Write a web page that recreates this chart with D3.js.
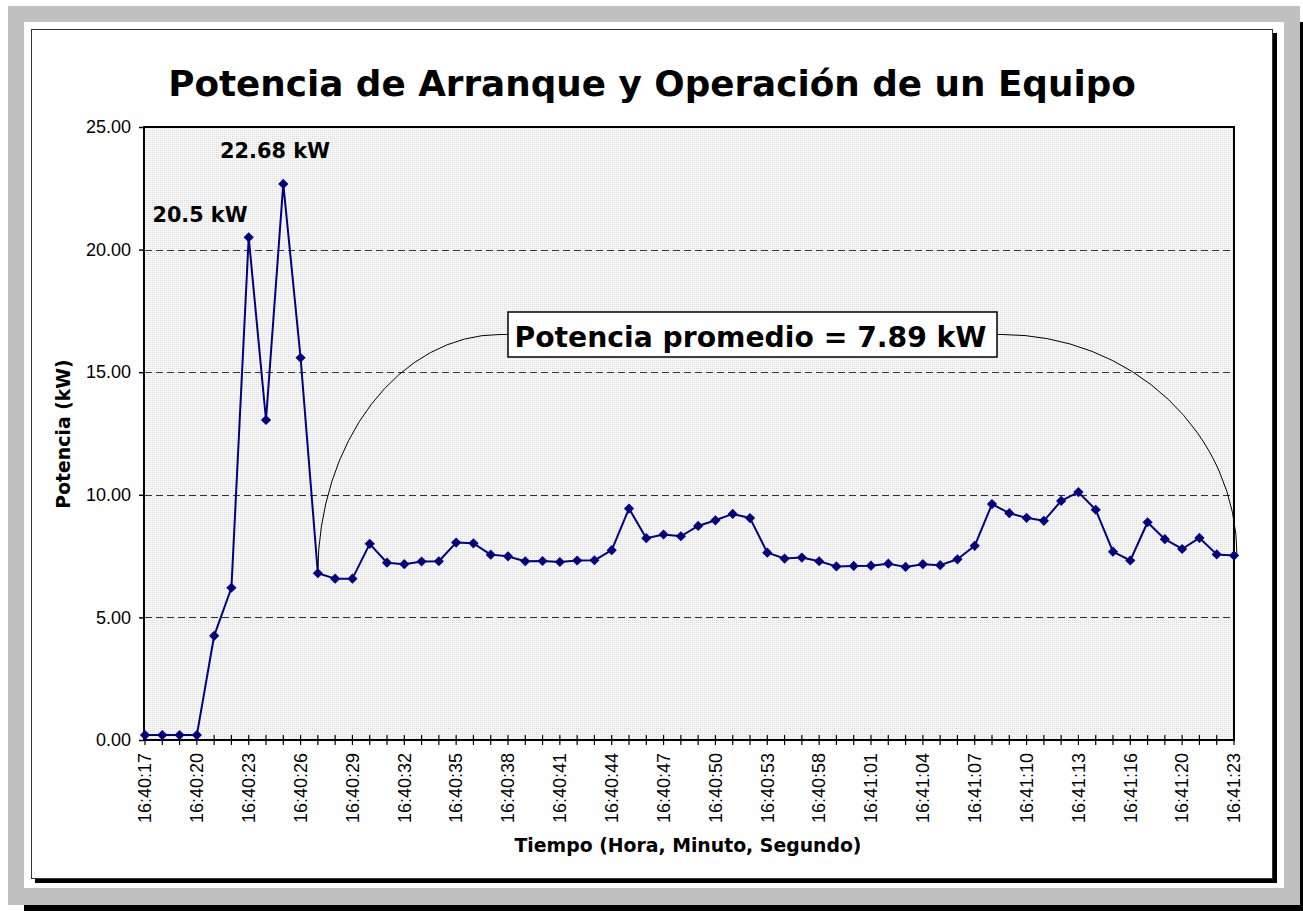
<!DOCTYPE html>
<html>
<head>
<meta charset="utf-8">
<script src="https://cdn.jsdelivr.net/npm/d3@7"></script>
<style>
  html, body { margin: 0; padding: 0; background: #ffffff; }
  svg { display: block; }
</style>
</head>
<body>
<svg id="chart" width="1303" height="911"></svg>
<script>
// ---------------- data ----------------
const times = [
  "16:40:17","16:40:18","16:40:19","16:40:20","16:40:21","16:40:22","16:40:23","16:40:24",
  "16:40:25","16:40:26","16:40:27","16:40:28","16:40:29","16:40:30","16:40:31","16:40:32",
  "16:40:33","16:40:34","16:40:35","16:40:36","16:40:37","16:40:38","16:40:39","16:40:40",
  "16:40:41","16:40:42","16:40:43","16:40:44","16:40:45","16:40:46","16:40:47","16:40:48",
  "16:40:49","16:40:50","16:40:51","16:40:52","16:40:53","16:40:55","16:40:56","16:40:58",
  "16:40:59","16:41:00","16:41:01","16:41:02","16:41:03","16:41:04","16:41:05","16:41:06",
  "16:41:07","16:41:08","16:41:09","16:41:10","16:41:11","16:41:12","16:41:13","16:41:14",
  "16:41:15","16:41:16","16:41:17","16:41:19","16:41:20","16:41:21","16:41:22","16:41:23"
];
const potencia = [
  0.20, 0.20, 0.20, 0.20, 4.25, 6.21, 20.50, 13.05, 22.68, 15.59,
  6.80, 6.58, 6.58, 8.00, 7.23, 7.17, 7.28, 7.29, 8.05, 8.02,
  7.56, 7.49, 7.29, 7.30, 7.26, 7.32, 7.33, 7.74, 9.44, 8.23,
  8.38, 8.31, 8.73, 8.96, 9.22, 9.05, 7.64, 7.40, 7.44, 7.29,
  7.08, 7.10, 7.11, 7.19, 7.06, 7.17, 7.13, 7.37, 7.92, 9.62,
  9.25, 9.06, 8.94, 9.75, 10.11, 9.39, 7.68, 7.32, 8.88, 8.19,
  7.79, 8.24, 7.57, 7.52
];
const yTicks = [0, 5, 10, 15, 20, 25];
const labelEvery = 3;
const titleText = "Potencia de Arranque y Operación de un Equipo";
const yTitle = "Potencia (kW)";
const xTitle = "Tiempo (Hora, Minuto, Segundo)";
const peakLabels = [ { idx: 6, text: "20.5 kW" }, { idx: 8, text: "22.68 kW" } ];
const avgText = "Potencia promedio = 7.89 kW";
const avgStartIdx = 10;

// ---------------- layout ----------------
const svg = d3.select("#chart");
const plot = { left: 145, right: 1234, top: 127, bottom: 740 };
const navy = "#000080";

function fitWidth(sel, target) {
  const w = sel.node().getComputedTextLength();
  const fs = parseFloat(sel.attr("font-size"));
  sel.attr("font-size", (fs * target / w).toFixed(2));
}

// outer gray frame with shadow
svg.append("rect").attr("x", 24).attr("y", 22).attr("width", 1292).attr("height", 899).attr("fill", "#000");
svg.append("rect").attr("x", 8).attr("y", 6).attr("width", 1292).attr("height", 899).attr("fill", "#c0c0c0");
svg.append("rect").attr("x", 24).attr("y", 22).attr("width", 1260).attr("height", 866).attr("fill", "#fff");
// chart area with shadow
svg.append("rect").attr("x", 35).attr("y", 33).attr("width", 1242).attr("height", 850).attr("fill", "#000");
svg.append("rect").attr("x", 31.5).attr("y", 29.5).attr("width", 1241).attr("height", 849)
  .attr("fill", "#fff").attr("stroke", "#333").attr("stroke-width", 1);

// pattern for plot background
const defs = svg.append("defs");
const pat = defs.append("pattern").attr("id", "dots").attr("width", 2).attr("height", 2)
  .attr("patternUnits", "userSpaceOnUse");
pat.append("rect").attr("width", 2).attr("height", 2).attr("fill", "#f7f7f7");
pat.append("rect").attr("width", 1).attr("height", 1).attr("fill", "#dcdcdc");

// scales
const x = d3.scalePoint().domain(d3.range(times.length)).range([plot.left, plot.right]);
const y = d3.scaleLinear().domain([0, 25]).range([plot.bottom, plot.top]);

// plot background
svg.append("rect").attr("x", plot.left - 1).attr("y", plot.top)
  .attr("width", plot.right - plot.left + 1).attr("height", plot.bottom - plot.top)
  .attr("fill", "url(#dots)");

// gridlines
svg.append("g").selectAll("line").data(yTicks.filter(d => d > 0 && d < 25)).join("line")
  .attr("x1", plot.left).attr("x2", plot.right)
  .attr("y1", d => Math.round(y(d)) + 0.5).attr("y2", d => Math.round(y(d)) + 0.5)
  .attr("stroke", "#333").attr("stroke-width", 1).attr("stroke-dasharray", "7,4");

// plot border
svg.append("rect").attr("x", plot.left - 1).attr("y", plot.top)
  .attr("width", plot.right - plot.left + 1).attr("height", plot.bottom - plot.top)
  .attr("fill", "none").attr("stroke", "#000").attr("stroke-width", 2);

// y axis
const yAxis = d3.axisLeft(y).tickValues(yTicks).tickFormat(d3.format(".2f")).tickSize(5).tickPadding(8);
const gy = svg.append("g").attr("transform", `translate(${plot.left - 1},0)`).call(yAxis);
gy.select(".domain").remove();
gy.selectAll("line").attr("stroke", "#000").attr("stroke-width", 1.5);
gy.selectAll("text").attr("font-family", "'Liberation Sans', Arial, sans-serif")
  .attr("font-size", 18).attr("fill", "#000");

// x axis ticks
const gx = svg.append("g");
gx.selectAll("line").data(d3.range(times.length)).join("line")
  .attr("x1", d => x(d)).attr("x2", d => x(d))
  .attr("y1", plot.bottom - 5).attr("y2", plot.bottom + 5)
  .attr("stroke", "#000").attr("stroke-width", 1.2);
gx.selectAll("text").data(d3.range(0, times.length, labelEvery)).join("text")
  .attr("transform", d => `translate(${x(d)},${plot.bottom + 13}) rotate(-90)`)
  .attr("text-anchor", "end").attr("dy", "0.35em")
  .attr("font-family", "'Liberation Sans', Arial, sans-serif").attr("font-size", 18)
  .attr("fill", "#000")
  .text(d => times[d]);

// series line
const line = d3.line().x((d, i) => x(i)).y(d => y(d));
svg.append("path").datum(potencia).attr("d", line)
  .attr("fill", "none").attr("stroke", navy).attr("stroke-width", 2).attr("stroke-linejoin", "round");

// callout arc
const boxLeft = 508, boxRight = 997, boxTop = 312, boxBottom = 357;
const boxMid = (boxTop + boxBottom) / 2;
const p0 = [x(avgStartIdx), y(potencia[avgStartIdx])];
const pN = [x(times.length - 1) + 3, y(potencia[potencia.length - 1])];
const leftEnd = 500, rightStart = 1002;
const arcPath = `M${p0[0]},${p0[1]} A${leftEnd - p0[0]},${p0[1] - boxMid} 0 0 1 ${leftEnd},${boxMid} L${boxLeft},${boxMid}` +
  ` M${boxRight},${boxMid} L${rightStart},${boxMid} A${pN[0] - rightStart},${pN[1] - boxMid} 0 0 1 ${pN[0]},${pN[1]}`;
svg.append("path").attr("d", arcPath).attr("fill", "none").attr("stroke", "#000").attr("stroke-width", 1);

// markers
svg.append("g").selectAll("path").data(potencia).join("path")
  .attr("d", d3.symbol(d3.symbolSquare, 52))
  .attr("transform", (d, i) => `translate(${x(i)},${y(d)}) rotate(45)`)
  .attr("fill", navy);

// average box
svg.append("rect").attr("x", boxLeft).attr("y", boxTop)
  .attr("width", boxRight - boxLeft).attr("height", boxBottom - boxTop)
  .attr("fill", "#fff").attr("stroke", "#000").attr("stroke-width", 1.5);
const avgT = svg.append("text").attr("x", (boxLeft + boxRight) / 2 - 2).attr("y", 347)
  .attr("text-anchor", "middle").attr("font-family", "'DejaVu Sans', Verdana, sans-serif")
  .attr("font-weight", "bold").attr("font-size", 28).attr("fill", "#000").text(avgText);
fitWidth(avgT, 472);

// peak labels
const peakPos = { 6: { cx: 200, y: 222, w: 95 }, 8: { cx: 275, y: 158, w: 110 } };
peakLabels.forEach(p => {
  const pp = peakPos[p.idx];
  const t = svg.append("text").attr("x", pp.cx).attr("y", pp.y).attr("text-anchor", "middle")
    .attr("font-family", "'DejaVu Sans', Verdana, sans-serif").attr("font-weight", "bold")
    .attr("font-size", 20).attr("fill", "#000").text(p.text);
  fitWidth(t, pp.w);
});

// title
const tt = svg.append("text").attr("x", 652).attr("y", 96).attr("text-anchor", "middle")
  .attr("font-family", "'DejaVu Sans', Verdana, sans-serif").attr("font-weight", "bold")
  .attr("font-size", 36).attr("fill", "#000").text(titleText);
fitWidth(tt, 968);

// axis titles
const xt = svg.append("text").attr("x", 688).attr("y", 852).attr("text-anchor", "middle")
  .attr("font-family", "'DejaVu Sans', Verdana, sans-serif").attr("font-weight", "bold")
  .attr("font-size", 18).attr("fill", "#000").text(xTitle);
fitWidth(xt, 347);
const yt = svg.append("text").attr("transform", "translate(70,434) rotate(-90)").attr("text-anchor", "middle")
  .attr("font-family", "'DejaVu Sans', Verdana, sans-serif").attr("font-weight", "bold")
  .attr("font-size", xt.attr("font-size")).attr("fill", "#000").text(yTitle);
</script>
</body>
</html>
